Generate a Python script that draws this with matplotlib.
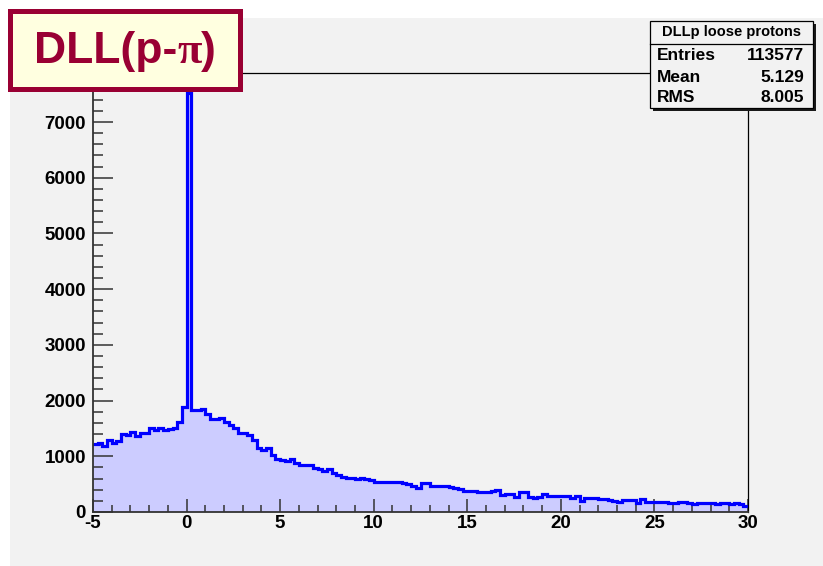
import numpy as np
import matplotlib
matplotlib.use("Agg")
import matplotlib.pyplot as plt
from matplotlib.patches import Rectangle
from matplotlib.lines import Line2D

plt.rcParams["axes.unicode_minus"] = False

# ---------------- data ----------------
x_low, x_high, n_bins = -5.0, 30.0, 140

counts_neg = [1225, 1240, 1180, 1285, 1240, 1270, 1400, 1390, 1435, 1360,
              1410, 1410, 1500, 1465, 1500, 1480, 1495, 1500, 1615, 1885]
counts_peak = [7520]
counts_0_5 = [1825, 1825, 1840, 1765, 1670, 1670, 1690, 1620, 1560, 1500,
              1410, 1410, 1375, 1285, 1150, 1120, 1150, 1030, 955]
counts_5_18 = [930, 915, 955, 885, 845, 843, 843, 790, 765, 741,
               771, 694, 664, 634, 610, 604, 592, 616, 598, 574,
               544, 544, 544, 544, 544, 532, 514, 502, 472, 425,
               514, 514, 466, 466, 466, 466, 454, 425, 407, 383,
               383, 383, 365, 353, 353, 383, 395, 305, 317, 317,
               275, 365, 353]
counts_18_30 = [263, 257, 275, 317, 293, 287, 287, 287, 287, 245,
                287, 203, 257, 257, 251, 233, 233, 215, 197, 179,
                209, 209, 209, 167, 233, 185, 185, 179, 179, 173,
                155, 161, 179, 179, 155, 143, 155, 155, 155, 155,
                149, 167, 155, 149, 167, 143, 114]

x_ticks = [-5, 0, 5, 10, 15, 20, 25, 30]
y_ticks = [0, 1000, 2000, 3000, 4000, 5000, 6000, 7000]
y_max = 7880

title_text = "DLL(p-"
title_pi = "\u03c0"
title_close = ")"
stats_title = "DLLp loose protons"
stats_names = ["Entries", "Mean", "RMS"]
stats_values = ["113577", "5.129", "8.005"]

# ---------------- figure ----------------
W, H = 823, 566
fig = plt.figure(figsize=(W / 100, H / 100), dpi=100, facecolor="white")

def fx(px):
    return px / W

def fy(py):
    return 1 - py / H

bg = "#f2f2f2"
fig.patches.append(Rectangle((fx(10), 0), 1 - fx(10), fy(18), transform=fig.transFigure,
                             facecolor=bg, edgecolor="none", zorder=-10))

ax_l, ax_r, ax_t, ax_b = 93, 748, 73, 512
ax = fig.add_axes([fx(ax_l), fy(ax_b), (ax_r - ax_l) / W, (ax_b - ax_t) / H])
ax.set_zorder(1)
ax.set_facecolor(bg)

counts = np.array(counts_neg + counts_peak + counts_0_5 + counts_5_18 + counts_18_30, dtype=float)
edges = np.linspace(x_low, x_high, n_bins + 1)

ax.stairs(counts, edges, fill=True, color="#ccccff", zorder=1)
ax.stairs(counts, edges, baseline=None, color="#0000ff", lw=2.3, zorder=2)

ax.set_xlim(x_low, x_high)
ax.set_ylim(0, y_max)

ax.set_xticks(x_ticks)
ax.set_yticks(y_ticks)
ax.set_xticks(np.arange(-5, 31, 1), minor=True)
ax.set_yticks(np.arange(0, y_max, 200), minor=True)

tick_col = "#333333"
ax.tick_params(axis="y", which="major", direction="in", length=14.4, width=1.1, color=tick_col, pad=5)
ax.tick_params(axis="y", which="minor", direction="in", length=7.2, width=1.1, color=tick_col)
ax.tick_params(axis="x", which="major", direction="in", length=9.4, width=1.1, color=tick_col, pad=2.5)
ax.tick_params(axis="x", which="minor", direction="in", length=5.0, width=1.1, color=tick_col)

for lab in ax.get_xticklabels() + ax.get_yticklabels():
    lab.set_fontfamily("Liberation Sans")
    lab.set_fontweight("bold")
    lab.set_fontsize(13.5)

for s in ["left", "bottom"]:
    ax.spines[s].set_color(tick_col)
    ax.spines[s].set_linewidth(1.3)
for s in ["top", "right"]:
    ax.spines[s].set_color("black")
    ax.spines[s].set_linewidth(0.9)

# ---------------- stats box ----------------
sx0, sy0, sx1, sy1 = 650, 21, 813, 108
sh = 2.5
fig.patches.append(Rectangle((fx(sx0 + sh), fy(sy1 + sh)), (sx1 - sx0) / W, (sy1 - sy0) / H,
                             transform=fig.transFigure, facecolor="#1a1a1a", edgecolor="none", zorder=5))
fig.patches.append(Rectangle((fx(sx0), fy(sy1)), (sx1 - sx0) / W, (sy1 - sy0) / H,
                             transform=fig.transFigure, facecolor=bg, edgecolor="black", lw=0.9, zorder=6))
fig.lines.append(Line2D([fx(sx0), fx(sx1)], [fy(43.5), fy(43.5)], transform=fig.transFigure,
                        color="black", lw=0.9, zorder=7))
fig.text(fx((sx0 + sx1) / 2), fy(32), stats_title, ha="center", va="center",
         fontsize=10.5, fontweight="bold", family="Liberation Sans", zorder=8)
row_y = [56, 77.5, 98]
for name, val, yy in zip(stats_names, stats_values, row_y):
    fig.text(fx(657), fy(yy), name, ha="left", va="center", fontsize=12.5,
             fontweight="bold", family="Liberation Sans", zorder=8)
    fig.text(fx(804), fy(yy), val, ha="right", va="center", fontsize=12.5,
             fontweight="bold", family="Liberation Sans", zorder=8)

# ---------------- title box ----------------
crimson = "#990033"
tx0, ty0, tx1, ty1 = 7.5, 8.5, 242.5, 91.5
bw = 5
fig.patches.append(Rectangle((fx(tx0 + bw / 2), fy(ty1 - bw / 2)), (tx1 - tx0 - bw) / W, (ty1 - ty0 - bw) / H,
                             transform=fig.transFigure, facecolor="#ffffe0", edgecolor=crimson,
                             lw=bw * 0.72, zorder=10, joinstyle="miter"))

fs = 32
base_y = fy(63)
parts = [(title_text, "Liberation Sans"), (title_pi, "Liberation Serif"), (title_close, "Liberation Sans")]
renderer = fig.canvas.get_renderer()
texts = []
cur = 0.0
for s, fam in parts:
    t = fig.text(cur, base_y, s, ha="left", va="baseline", fontsize=fs, fontweight="bold",
                 family=fam, color=crimson, zorder=11)
    bb = t.get_window_extent(renderer)
    texts.append((t, bb.width / W))
    cur += bb.width / W
total = cur
start = fx(125) - total / 2
cur = start
for t, w in texts:
    t.set_x(cur)
    cur += w

fig.savefig("out.png", dpi=100, facecolor=fig.get_facecolor())
